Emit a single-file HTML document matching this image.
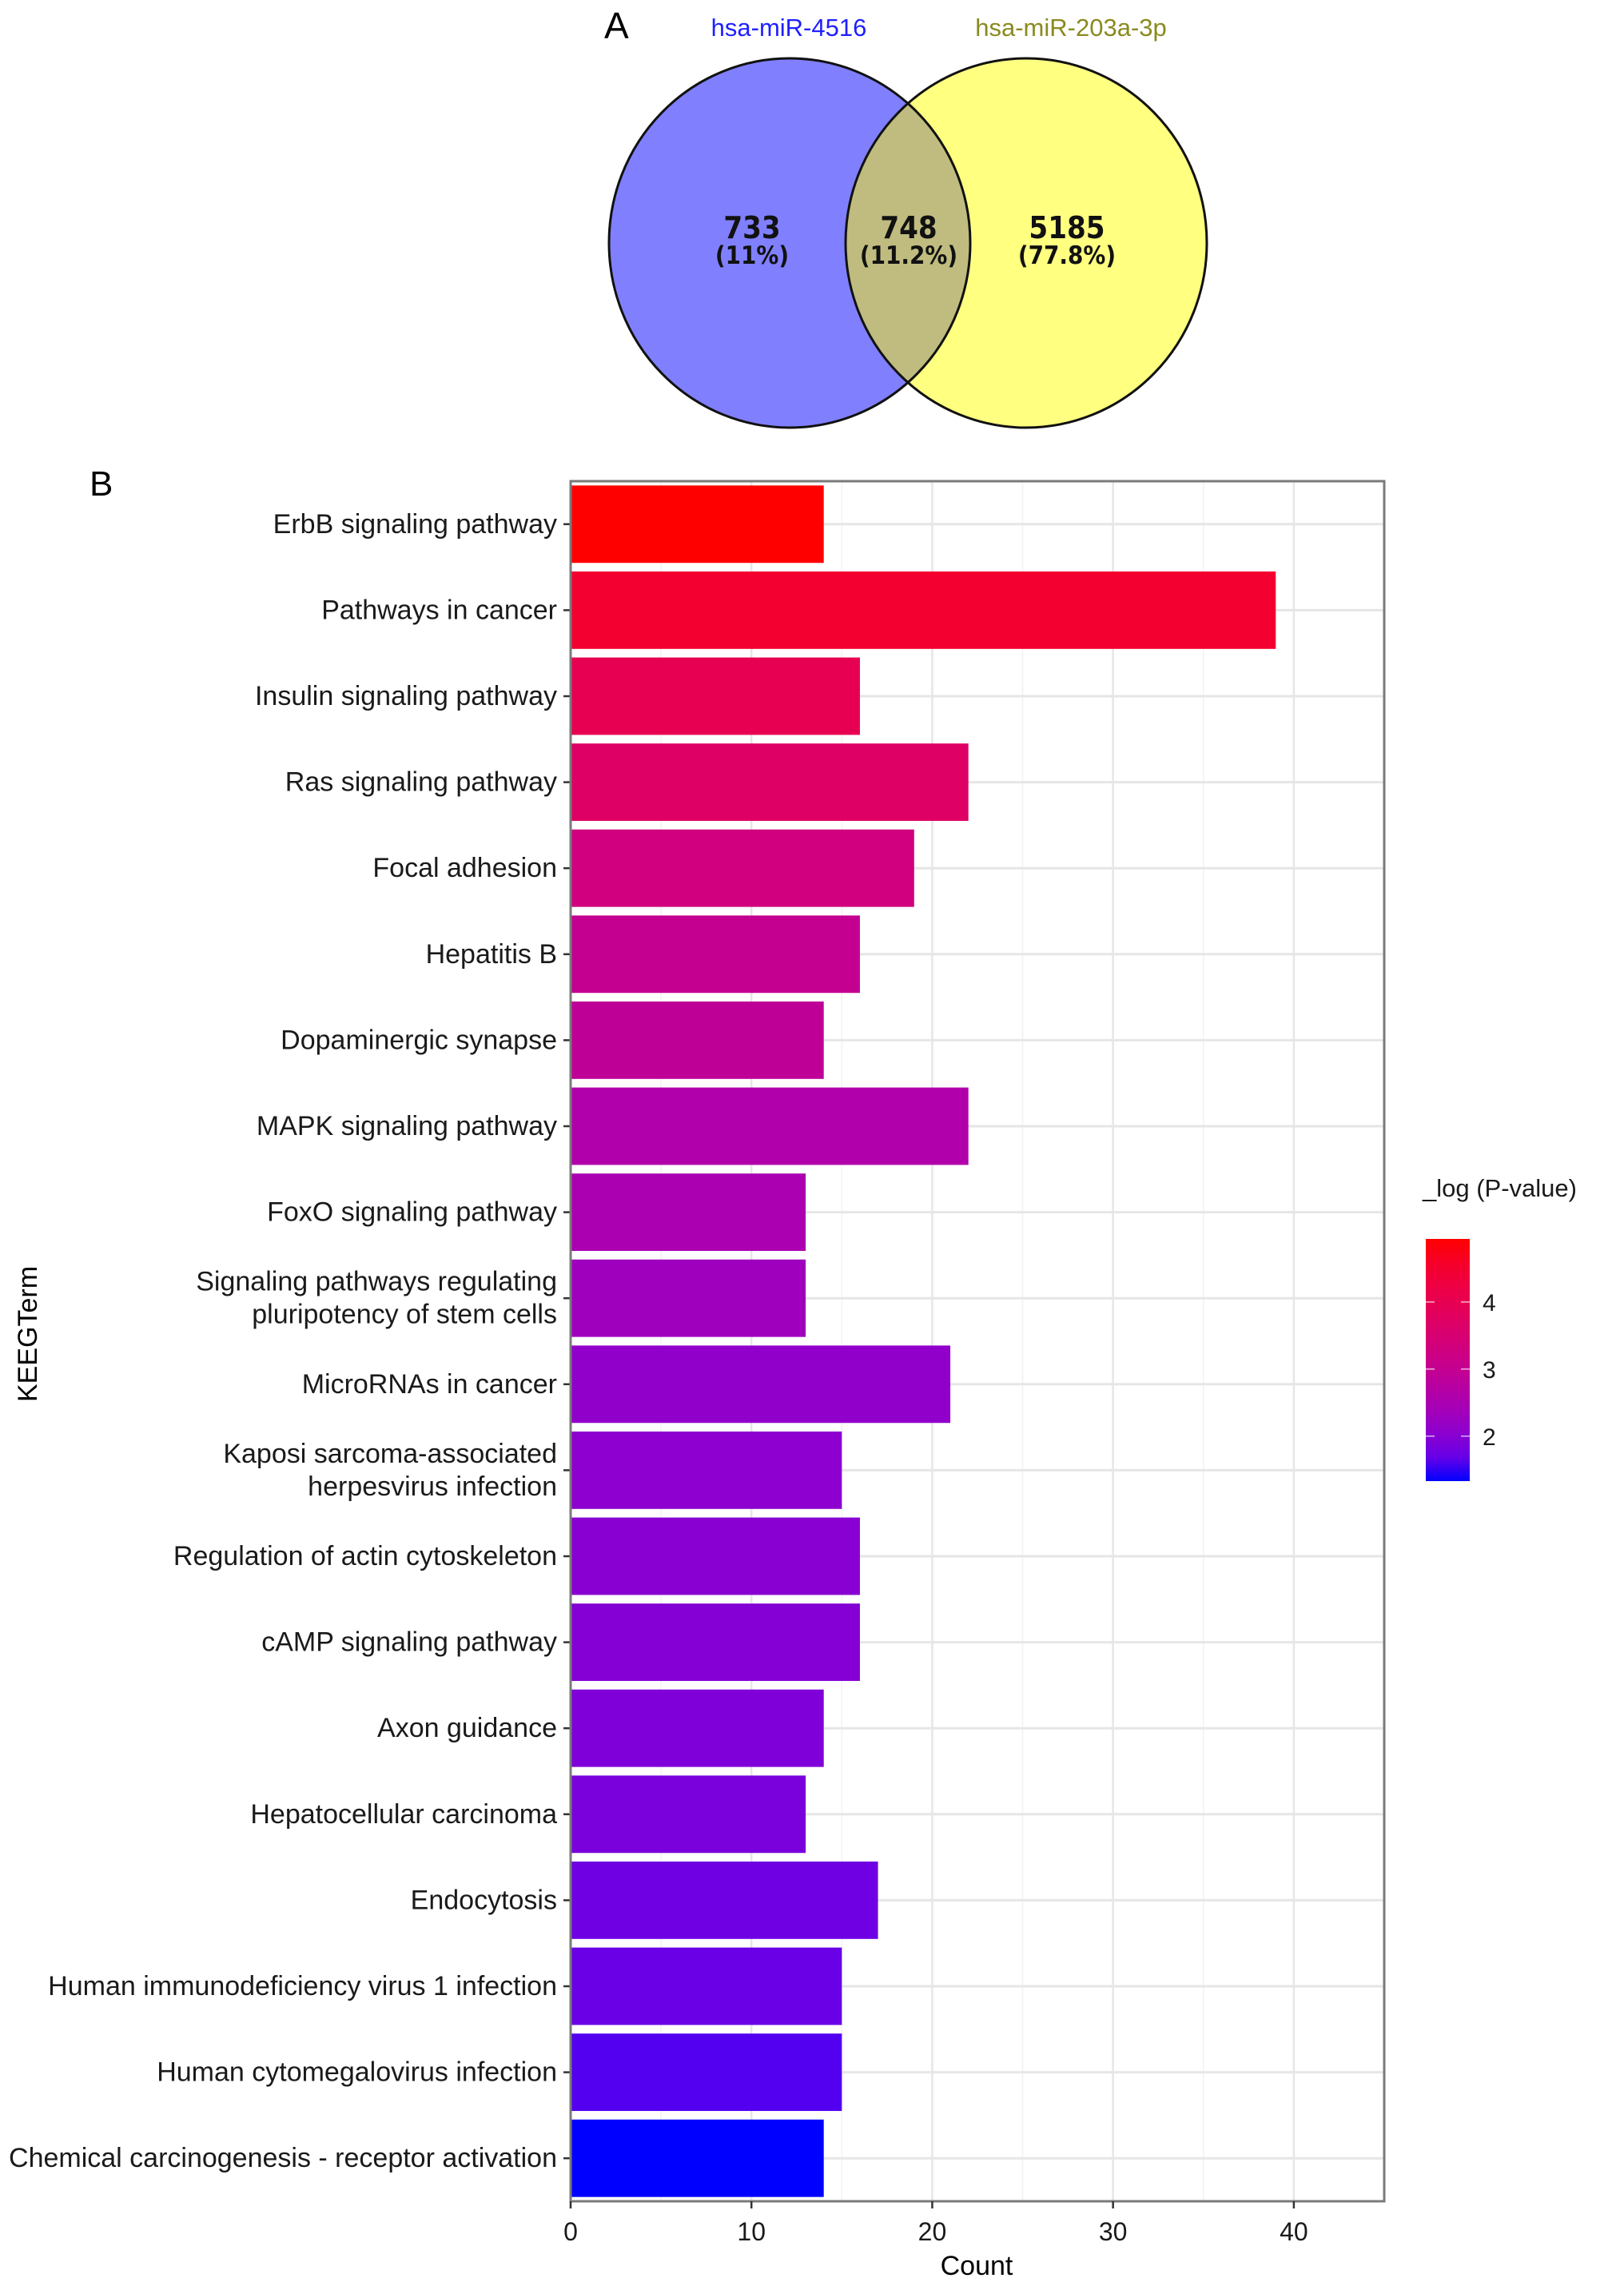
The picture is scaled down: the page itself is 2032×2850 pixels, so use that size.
<!DOCTYPE html>
<html><head><meta charset="utf-8"><style>
html,body{margin:0;padding:0;background:#fff;}
svg{display:block;font-family:"Liberation Sans",Arial,sans-serif;}
</style></head><body>
<svg id="fig" width="2032" height="2850" viewBox="0 0 2032 2850" xmlns="http://www.w3.org/2000/svg">
<rect width="2032" height="2850" fill="#fff"/>
<g>
<text x="756" y="48" font-size="46" fill="#000">A</text>
<text x="987" y="45" font-size="31" fill="#2020ff" text-anchor="middle">hsa-miR-4516</text>
<text x="1340" y="45" font-size="31" fill="#8a8a20" text-anchor="middle">hsa-miR-203a-3p</text>
<defs><clipPath id="clipL"><ellipse cx="988" cy="304" rx="226" ry="231"/></clipPath></defs>
<ellipse cx="988" cy="304" rx="226" ry="231" fill="#8080ff"/>
<ellipse cx="1284" cy="304" rx="226" ry="231" fill="#ffff80"/>
<ellipse cx="1284" cy="304" rx="226" ry="231" fill="#c0bc80" clip-path="url(#clipL)"/>
<ellipse cx="988" cy="304" rx="226" ry="231" fill="none" stroke="#111" stroke-width="3"/>
<ellipse cx="1284" cy="304" rx="226" ry="231" fill="none" stroke="#111" stroke-width="3"/>
<g font-weight="bold" font-size="38" text-anchor="middle" fill="#111" font-family="'DejaVu Sans Condensed','Liberation Sans',sans-serif">
<text x="941" y="298">733</text>
<text x="1137" y="298">748</text>
<text x="1335" y="298">5185</text>
</g>
<g font-weight="bold" font-size="31" text-anchor="middle" fill="#111" font-family="'DejaVu Sans Condensed','Liberation Sans',sans-serif">
<text x="941" y="330">(11%)</text>
<text x="1137" y="330">(11.2%)</text>
<text x="1335" y="330">(77.8%)</text>
</g>
</g>
<text x="112" y="620" font-size="44" fill="#000">B</text>
<g id="chart"></g>
</svg>
<script>
const categories = ["ErbB signaling pathway","Pathways in cancer","Insulin signaling pathway","Ras signaling pathway","Focal adhesion","Hepatitis B","Dopaminergic synapse","MAPK signaling pathway","FoxO signaling pathway","Signaling pathways regulating|pluripotency of stem cells","MicroRNAs in cancer","Kaposi sarcoma-associated|herpesvirus infection","Regulation of actin cytoskeleton","cAMP signaling pathway","Axon guidance","Hepatocellular carcinoma","Endocytosis","Human immunodeficiency virus 1 infection","Human cytomegalovirus infection","Chemical carcinogenesis - receptor activation"];
const counts = [14,39,16,22,19,16,14,22,13,13,21,15,16,16,14,13,17,15,15,14];
const logP = [4.94,4.5,4.0,3.7,3.3,3.0,2.9,2.6,2.5,2.3,2.1,2.05,2.0,1.95,1.9,1.85,1.75,1.7,1.55,1.33];
const xTicks = [0,10,20,30,40];
const legendTicks = [2,3,4];

const NS="http://www.w3.org/2000/svg";
const g=document.getElementById('chart');
function mk(t,a,p){const e=document.createElementNS(NS,t);for(const k in a)e.setAttribute(k,a[k]);(p||g).appendChild(e);return e;}
const PL=714,PR=1732,PT=602,PB=2754,XMAX=45;
const xs=v=>PL+(v/XMAX)*(PR-PL);
const band=(PB-PT)/categories.length;
const yc=i=>PT+band*(i+0.5);
function toLin(c){c/=255;return c<=0.04045?c/12.92:Math.pow((c+0.055)/1.055,2.4);}
function fromLin(c){c=c<=0.0031308?12.92*c:1.055*Math.pow(c,1/2.4)-0.055;return Math.max(0,Math.min(255,Math.round(c*255)));}
function rgb2lab(r,g,b){r=toLin(r);g=toLin(g);b=toLin(b);let X=(r*0.4124+g*0.3576+b*0.1805)/0.95047,Y=r*0.2126+g*0.7152+b*0.0722,Z=(r*0.0193+g*0.1192+b*0.9505)/1.08883;const f=t=>t>0.008856?Math.cbrt(t):7.787*t+16/116;X=f(X);Y=f(Y);Z=f(Z);return[116*Y-16,500*(X-Y),200*(Y-Z)];}
function lab2rgb(L,a,b){let Y=(L+16)/116,X=a/500+Y,Z=Y-b/200;const f=t=>t*t*t>0.008856?t*t*t:(t-16/116)/7.787;X=f(X)*0.95047;Y=f(Y);Z=f(Z)*1.08883;let r=X*3.2406+Y*-1.5372+Z*-0.4986,gg=X*-0.9689+Y*1.8758+Z*0.0415,bb=X*0.0557+Y*-0.2040+Z*1.0570;return`rgb(${fromLin(r)},${fromLin(gg)},${fromLin(bb)})`;}
const LO=rgb2lab(0,0,255),HI=rgb2lab(255,0,0);
const VMIN=1.33,VMAX=4.94;
function col(v){const t=Math.max(0,Math.min(1,(v-VMIN)/(VMAX-VMIN)));return lab2rgb(LO[0]+(HI[0]-LO[0])*t,LO[1]+(HI[1]-LO[1])*t,LO[2]+(HI[2]-LO[2])*t);}

for(let v=5;v<XMAX;v+=10){const l=mk('line',{x1:xs(v),x2:xs(v),y1:PT,y2:PB,stroke:'#f2f2f2','stroke-width':1.5});}
xTicks.forEach(v=>{const l=mk('line',{x1:xs(v),x2:xs(v),y1:PT,y2:PB,stroke:'#e6e6e6','stroke-width':2.5});});
categories.forEach((c,i)=>{const l=mk('line',{x1:PL,x2:PR,y1:yc(i),y2:yc(i),stroke:'#e6e6e6','stroke-width':3});});
categories.forEach((c,i)=>{
  const r=mk('rect',{x:xs(0),y:yc(i)-band*0.45,width:xs(counts[i])-xs(0),height:band*0.9,fill:col(logP[i])});
  
  
  const tk=mk('line',{x1:PL-9,x2:PL,y1:yc(i),y2:yc(i),stroke:'#333','stroke-width':2.5});
  
  
  const lines=c.split('|');
  const t=mk('text',{x:697,y:0,'font-size':34,'text-anchor':'end',fill:'#1a1a1a'});
  
  
  lines.forEach((s,k)=>{const ts=mk('tspan',{x:697,y:yc(i)+11+(k-(lines.length-1)/2)*41},t);ts.textContent=s;});
});
const b=mk('rect',{x:PL,y:PT,width:PR-PL,height:PB-PT,fill:'none',stroke:'#7a7a7a','stroke-width':3});


xTicks.forEach(v=>{
  const l=mk('line',{x1:xs(v),x2:xs(v),y1:PB,y2:PB+9,stroke:'#333','stroke-width':2.5});
  
  
  const t=mk('text',{x:xs(v),y:2803,'font-size':32,'text-anchor':'middle',fill:'#1a1a1a'});
  
  
  t.textContent=v;
});
const xt=mk('text',{x:1222,y:2846,'font-size':34,'text-anchor':'middle',fill:'#000'});


xt.textContent='Count';
const yt=mk('text',{x:0,y:0,'font-size':34,'text-anchor':'middle',fill:'#000',transform:'translate(46,1669) rotate(-90)'});


yt.textContent='KEEGTerm';
const LT=1550,LB=1853,LX=1784,LW=55;
const ly=v=>LB-(v-VMIN)/(VMAX-VMIN)*(LB-LT);
const defs=mk('defs',{});
const gr=mk('linearGradient',{id:'lg',x1:0,y1:1,x2:0,y2:0},defs);
for(let k=0;k<=10;k++){mk('stop',{offset:k/10,'stop-color':col(VMIN+(VMAX-VMIN)*k/10)},gr);}
const lr=mk('rect',{x:LX,y:LT,width:LW,height:LB-LT,fill:'url(#lg)'});


const lt=mk('text',{x:1780,y:1497,'font-size':31,fill:'#1a1a1a'});


lt.textContent='_log (P-value)';
legendTicks.forEach(v=>{
  mk('line',{x1:LX,x2:LX+11,y1:ly(v),y2:ly(v),stroke:'#fff','stroke-width':1.5,opacity:0.7});
  mk('line',{x1:LX+LW-11,x2:LX+LW,y1:ly(v),y2:ly(v),stroke:'#fff','stroke-width':1.5,opacity:0.7});
  const t=mk('text',{x:1855,y:ly(v)+11,'font-size':30,fill:'#1a1a1a'});
  
  
  t.textContent=v;
});
</script>
</body></html>
